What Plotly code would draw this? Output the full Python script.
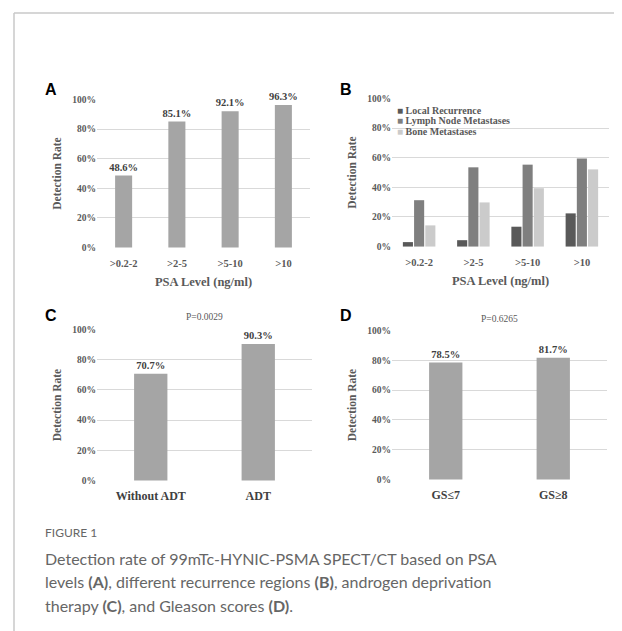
import plotly.graph_objects as go

# the page body adds an 8px margin; the figure fills the rest of the 622x631 window
OFF = 8
W, H = 622 - OFF, 631 - OFF

# ---------------- data ----------------
psa_levels = [">0.2-2", ">2-5", ">5-10", ">10"]
psa_detection = [0.486, 0.851, 0.921, 0.963]

region_names = ["Local Recurrence", "Lymph Node Metastases", "Bone Metastases"]
local_recurrence = [0.03, 0.043, 0.134, 0.224]
lymph_node = [0.313, 0.535, 0.553, 0.595]
bone_mets = [0.143, 0.298, 0.394, 0.521]

adt_groups = ["Without ADT", "ADT"]
adt_detection = [0.707, 0.903]
adt_p = "P=0.0029"

gs_groups = ["GS\u22647", "GS\u22658"]
gs_detection = [0.785, 0.817]
gs_p = "P=0.6265"

y_ticks = [0, 0.2, 0.4, 0.6, 0.8, 1.0]

# ---------------- styles ----------------
SERIF = "Liberation Serif, Times New Roman, serif"
SANS = "Liberation Sans, Arial, sans-serif"
BAR_GREY = "#a5a5a5"
REGION_COLORS = ["#595959", "#7f7f7f", "#cbcbcb"]
GRID = "#d9d9d9"
TXT = "#595959"
LBL = "#404040"


def px(p):
    return (p - OFF) / W


def py(p):
    return 1 - (p - OFF) / H


def xd(p0, p1):
    return [px(p0), px(p1)]


def yd(top, bot):
    return [py(bot), py(top)]


def sfont(size, color=TXT, weight="bold"):
    return dict(family=SERIF, size=size, color=color, weight=weight)


fig = go.Figure()

# Panel A
fig.add_trace(go.Bar(
    x=psa_levels, y=psa_detection, xaxis="x", yaxis="y",
    marker_color=BAR_GREY, width=0.32, showlegend=False,
    text=[f"{v*100:.1f}%" for v in psa_detection], textposition="outside",
    textfont=sfont(10.5, LBL), constraintext="none", cliponaxis=False,
))

# Panel B
for name, vals, col in zip(region_names, [local_recurrence, lymph_node, bone_mets], REGION_COLORS):
    fig.add_trace(go.Bar(
        x=psa_levels, y=vals, xaxis="x2", yaxis="y2", name=name,
        marker_color=col, showlegend=False,
    ))

# Panel C
fig.add_trace(go.Bar(
    x=adt_groups, y=adt_detection, xaxis="x3", yaxis="y3",
    marker_color=BAR_GREY, width=0.31, showlegend=False,
    text=[f"{v*100:.1f}%" for v in adt_detection], textposition="outside",
    textfont=sfont(10.5, LBL), constraintext="none", cliponaxis=False,
))

# Panel D
fig.add_trace(go.Bar(
    x=gs_groups, y=gs_detection, xaxis="x4", yaxis="y4",
    marker_color=BAR_GREY, width=0.31, showlegend=False,
    text=[f"{v*100:.1f}%" for v in gs_detection], textposition="outside",
    textfont=sfont(10.5, LBL), constraintext="none", cliponaxis=False,
))

yaxis_common = dict(
    range=[-0.003, 1.003], tickvals=y_ticks, tickformat=".0%",
    showgrid=True, gridcolor=GRID, gridwidth=1, zeroline=False,
    showline=False, ticks="", fixedrange=True, automargin=False,
    tickfont=sfont(9.5),
    title=dict(text="Detection Rate", font=sfont(11.5), standoff=8),
)
xaxis_common = dict(
    showgrid=False, zeroline=False, showline=False, automargin=False,
    ticks="outside", tickcolor="rgba(0,0,0,0)", fixedrange=True,
)

fig.update_layout(
    template="none",
    width=W, height=H, autosize=False,
    margin=dict(l=0, r=0, t=0, b=0, pad=0),
    paper_bgcolor="white", plot_bgcolor="white",
    barmode="group", bargap=0.38, bargroupgap=0.1,
    xaxis=dict(domain=xd(97, 310), anchor="y", ticklen=5, tickfont=sfont(10.5),
               title=dict(text="PSA Level (ng/ml)", font=sfont(12.5), standoff=9),
               **xaxis_common),
    yaxis=dict(domain=yd(99, 248), anchor="x", **yaxis_common),
    xaxis2=dict(domain=xd(392, 609), anchor="y2", ticklen=5, tickfont=sfont(10.5),
                title=dict(text="PSA Level (ng/ml)", font=sfont(12.5), standoff=9),
                **xaxis_common),
    yaxis2=dict(domain=yd(98, 247), anchor="x2", **yaxis_common),
    xaxis3=dict(domain=xd(97, 312), anchor="y3", ticklen=4, tickfont=sfont(12, LBL),
                **xaxis_common),
    yaxis3=dict(domain=yd(329, 481), anchor="x3", **yaxis_common),
    xaxis4=dict(domain=xd(392, 607), anchor="y4", ticklen=4, tickfont=sfont(12, LBL),
                **xaxis_common),
    yaxis4=dict(domain=yd(330, 480), anchor="x4", **yaxis_common),
)

ann = []
# panel letters
for letter, lx, ly in [("A", 51, 89), ("B", 346, 89), ("C", 51, 315), ("D", 346, 315)]:
    ann.append(dict(text=letter, x=px(lx), y=py(ly), xref="paper", yref="paper",
                    showarrow=False, xanchor="center", yanchor="middle",
                    font=dict(family=SANS, size=16, color="black", weight="bold")))
# p-values
ann.append(dict(text=adt_p, x=0.5, y=1.03, xref="x3 domain", yref="y3 domain",
                showarrow=False, xanchor="center", yanchor="bottom",
                font=sfont(9.5, weight="normal")))
ann.append(dict(text=gs_p, x=0.5, y=1.03, xref="x4 domain", yref="y4 domain",
                showarrow=False, xanchor="center", yanchor="bottom",
                font=sfont(9.5, weight="normal")))
# legend for panel B
for i, (name, col) in enumerate(zip(region_names, REGION_COLORS)):
    ann.append(dict(text=f"<span style='color:{col}'>\u25a0</span> {name}",
                    x=px(395), y=py(110 + 11 * i), xref="paper", yref="paper",
                    showarrow=False, xanchor="left", yanchor="middle",
                    font=sfont(10)))
# caption
CAP = "Lato, Open Sans, sans-serif"
CAPC = "#666666"
ann.append(dict(text="FIGURE 1", x=px(43), y=py(532), xref="paper", yref="paper",
                showarrow=False, xanchor="left", yanchor="middle",
                font=dict(family=CAP, size=12, color=CAPC)))
cap_lines = [
    "Detection rate of 99mTc-HYNIC-PSMA SPECT/CT based on PSA",
    "levels <b>(A)</b>, different recurrence regions <b>(B)</b>, androgen deprivation",
    "therapy <b>(C)</b>, and Gleason scores <b>(D)</b>.",
]
for i, line in enumerate(cap_lines):
    ann.append(dict(text=line, x=px(43), y=py(558 + 23.5 * i), xref="paper", yref="paper",
                    showarrow=False, xanchor="left", yanchor="middle",
                    font=dict(family=CAP, size=16, color=CAPC)))
fig.update_layout(annotations=ann)

# frame lines
fig.update_layout(shapes=[
    dict(type="line", xref="paper", yref="paper", x0=px(14), x1=1, y0=py(13), y1=py(13),
         line=dict(color="#c8c8c8", width=1.5)),
    dict(type="line", xref="paper", yref="paper", x0=px(14), x1=px(14), y0=0, y1=py(13),
         line=dict(color="#c8c8c8", width=1.5)),
])

fig.write_html("out.html")
